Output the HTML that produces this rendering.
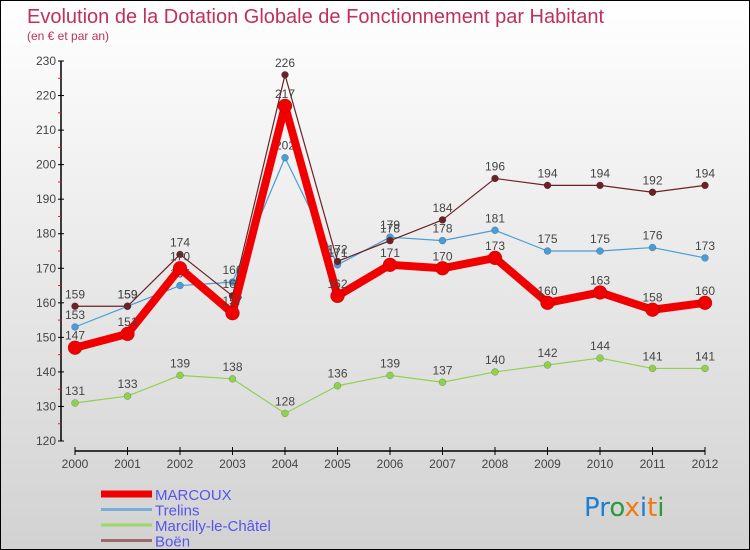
<!DOCTYPE html>
<html><head><meta charset="utf-8"><style>
html,body{margin:0;padding:0}
#wrap{position:relative;width:748px;height:548px;border:1px solid #000;background:linear-gradient(#ffffff,#d2d2d2);overflow:hidden;font-family:"Liberation Sans",sans-serif}
</style></head><body>
<div id="wrap">
<svg id="chart" width="748" height="548">
<text x="26" y="22" font-size="20" fill="#c0305a">Evolution de la Dotation Globale de Fonctionnement par Habitant</text>
<text x="26" y="39" font-size="12" fill="#c0305a">(en € et par an)</text>
<g id="axes"></g><g id="series"></g><g id="legend"></g>
<text x="583" y="515" font-size="26" font-family="'DejaVu Sans',sans-serif"><tspan fill="#1a7fd0">Pr</tspan><tspan fill="#2a9a40">o</tspan><tspan fill="#f07a10">x</tspan><tspan fill="#1a7fd0">i</tspan><tspan fill="#f07a10">t</tspan><tspan fill="#2a9a40">i</tspan></text>
</svg></div>
<script>
const years=[2000,2001,2002,2003,2004,2005,2006,2007,2008,2009,2010,2011,2012];
const yTicks=[120,130,140,150,160,170,180,190,200,210,220,230];
const marcoux=[147,151,170,157,217,162,171,170,173,160,163,158,160];
const trelins=[153,159,165,166,202,171,179,178,181,175,175,176,173];
const marcilly=[131,133,139,138,128,136,139,137,140,142,144,141,141];
const boen=[159,159,174,162,226,172,178,184,196,194,194,192,194];
const NS="http://www.w3.org/2000/svg";
function X(i){return 74+i*52.5;}
function Y(v){return 440-(v-120)*3.4545;}
function mk(tag,attrs,parent){const e=document.createElementNS(NS,tag);for(const k in attrs)e.setAttribute(k,attrs[k]);parent.appendChild(e);return e;}
const ax=document.getElementById('axes');
let yl=mk('line',{x1:60,y1:Y(230),x2:60,y2:Y(120),stroke:'#000','stroke-width':1.5},ax);


yTicks.forEach(v=>{
 mk('line',{x1:57,y1:Y(v),x2:63,y2:Y(v),stroke:'#000'},ax);
 if(v<230)mk('line',{x1:57,y1:Y(v+5),x2:60,y2:Y(v+5),stroke:'#e02020'},ax);
 const t=mk('text',{x:55,y:Y(v)+4,'font-size':12,fill:'#444','text-anchor':'end'},ax);t.textContent=v;
 
 
});
let xl=mk('line',{x1:X(0),y1:450,x2:X(12),y2:450,stroke:'#000','stroke-width':1.5},ax);


years.forEach((y,i)=>{
 mk('line',{x1:X(i),y1:446,x2:X(i),y2:454,stroke:'#000'},ax);
 const t=mk('text',{x:X(i),y:467,'font-size':12,fill:'#444','text-anchor':'middle'},ax);t.textContent=y;
 
 
});
const sg=document.getElementById('series');
function draw(data,color,w,r,name,labelColor){
 const g=mk('g',{},sg);
 
 
 const pts=data.map((v,i)=>X(i)+','+Y(v)).join(' ');
 mk('polyline',{points:pts,fill:'none',stroke:color,'stroke-width':w,'stroke-linejoin':'round'},g);
 data.forEach((v,i)=>{
  const c=mk('circle',{cx:X(i),cy:Y(v),r:r,fill:color,stroke:'rgba(0,0,0,0.3)','stroke-width':0.5},g);
  
  
  const t=mk('text',{x:X(i),y:Y(v)-8,'font-size':12,fill:'#444','text-anchor':'middle'},g);t.textContent=v;
  
  
 });
}
draw(marcilly,'#8fd14f',1.2,3.5,'marcilly');
draw(trelins,'#4a9cd6',1.2,3.5,'trelins');
draw(boen,'#6b2226',1.2,3.5,'boen');
draw(marcoux,'#f00000',8,7,'marcoux');
const lg=document.getElementById('legend');
const items=[['MARCOUX','#f00000',7],['Trelins','#7aaed6',3],['Marcilly-le-Châtel','#9cd86a',3],['Boën','#9b6b6b',3]];
items.forEach((it,k)=>{
 const y=493+k*15.5;
 const l=mk('line',{x1:100,y1:y,x2:151,y2:y,stroke:it[1],'stroke-width':it[2]},lg);
 
 
 const t=mk('text',{x:154,y:y+6,'font-size':15,fill:'#5555ee'},lg);t.textContent=it[0];
 
 
});
</script>
</body></html>
